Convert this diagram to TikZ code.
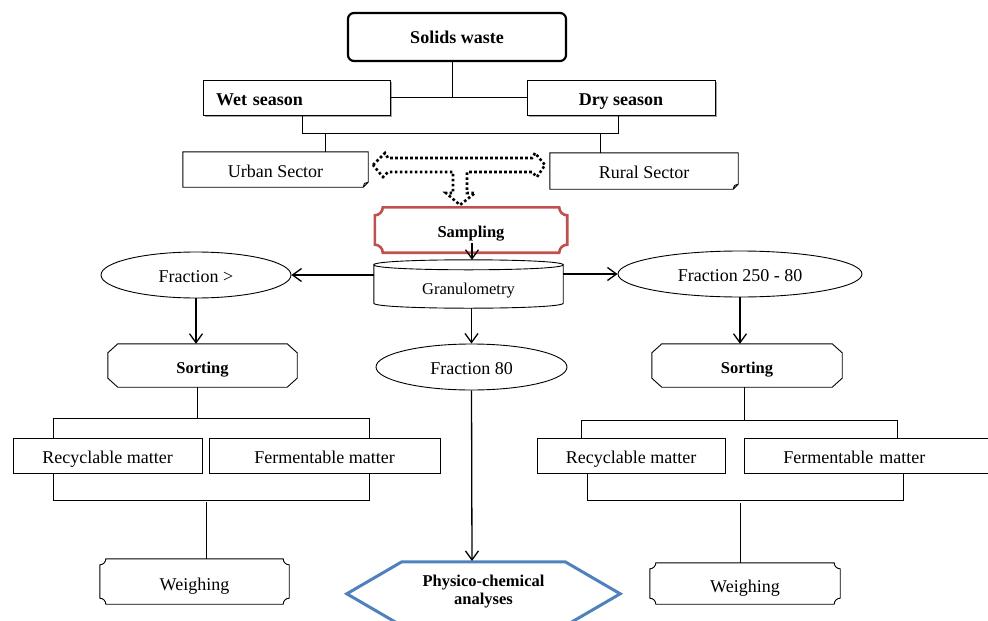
\documentclass[tikz,border=0pt]{standalone}
\usepackage{fontspec}
\setmainfont{Liberation Serif}
\usetikzlibrary{arrows.meta,calc,shapes.geometric}
\definecolor{redb}{HTML}{C0504D}
\definecolor{blueb}{HTML}{4F81BD}
\newcommand\concavepath[2]{ let \p1=(#1.south west), \p2=(#1.north east) in (\x1,\y1+#2) -- (\x1,\y2-#2) .. controls (\x1+0.55*#2,\y2-#2) and (\x1+#2,\y2-0.55*#2) .. (\x1+#2,\y2) -- (\x2-#2,\y2) .. controls (\x2-#2,\y2-0.55*#2) and (\x2-0.55*#2,\y2-#2) .. (\x2,\y2-#2) -- (\x2,\y1+#2) .. controls (\x2-0.55*#2,\y1+#2) and (\x2-#2,\y1+0.55*#2) .. (\x2-#2,\y1) -- (\x1+#2,\y1) .. controls (\x1+#2,\y1+0.55*#2) and (\x1+0.55*#2,\y1+#2) .. (\x1,\y1+#2) -- cycle}
\newcommand\chamferpath[3]{ let \p1=(#1.south west), \p2=(#1.north east) in (\x1+#2,\y1) -- (\x2-#2,\y1) -- (\x2,\y1+#3) -- (\x2,\y2-#3) -- (\x2-#2,\y2) -- (\x1+#2,\y2) -- (\x1,\y2-#3) -- (\x1,\y1+#3) -- cycle}
\newcommand\foldpath[2]{ let \p1=(#1.south west), \p2=(#1.north east) in (\x1,\y1) -- (\x2-#2,\y1) -- (\x2,\y1+#2) -- (\x2,\y2) -- (\x1,\y2) -- cycle (\x2-#2,\y1) -- (\x2-0.75*#2,\y1+0.75*#2) -- (\x2,\y1+#2)}
\newcommand\hexpath[2]{ let \p1=(#1.south west), \p2=(#1.north east) in (\x1,\y2-32pt) -- (\x1+#2,\y2) -- (\x2-#2,\y2) -- (\x2,\y2-32pt) -- (\x2-#2,\y2-64pt) -- (\x1+#2,\y2-64pt) -- cycle}
\newcommand\cylpath[1]{ let \p1=(#1.south west), \p2=(#1.north east) in (\x1,\y2-5pt) .. controls (\x1,\y2+1.67pt) and (\x2,\y2+1.67pt) .. (\x2,\y2-5pt) .. controls (\x2,\y2-11.67pt) and (\x1,\y2-11.67pt) .. (\x1,\y2-5pt) -- (\x1,\y1+5pt) .. controls (\x1,\y1-1.67pt) and (\x2,\y1-1.67pt) .. (\x2,\y1+5pt) -- (\x2,\y2-5pt)}
\newcommand\shadowpath[1]{ let \p1=(#1.south west), \p2=(#1.north east) in (\x2+1.2pt,\y2-2pt) -- (\x2+1.2pt,\y1-1.2pt) -- (\x1+2pt,\y1-1.2pt)}
\tikzset{
  base/.style={inner sep=0pt, font=\fontsize{18}{21}\selectfont, text height=15pt, text depth=0pt},
  bbase/.style={inner sep=0pt, font=\bfseries\fontsize{18}{21}\selectfont},
  sbase/.style={inner sep=0pt, font=\bfseries\fontsize{16.5}{18}\selectfont},
  box/.style={base, draw, line width=0.9pt},
  ell/.style={base, draw, line width=0.9pt, ellipse, text height=14pt},
  conn/.style={line width=0.9pt},
  arr/.style={line width=1.3pt, -{Straight Barb[length=9pt,width=13pt,line width=1.3pt]}},
  outline/.style={line width=0.9pt},
  dotarrow/.style={line width=2.6pt, dash pattern=on 2.6pt off 2.4pt},
}
\begin{document}
\begin{tikzpicture}[x=1pt,y=-1pt]
\useasboundingbox (0,0) rectangle (988,621);
% nodes
\node[bbase, draw, line width=2.2pt, rounded corners=6pt, minimum width=218, minimum height=48, text height=12pt, text depth=0pt] (sw) at (457,37) {Solids waste};
\node[bbase, draw, line width=0.9pt, minimum width=187, minimum height=35, inner xsep=13pt, text width=161pt, align=left, text height=16pt, text depth=0pt] (wet) at (296.5,97.5) {Wet season};
\node[bbase, draw, line width=0.9pt, minimum width=188, minimum height=35, text height=16pt, text depth=0pt] (dry) at (621,97.5) {Dry season};
\draw[gray!70, line width=1.1pt] \shadowpath{wet};
\draw[gray!70, line width=1.1pt] \shadowpath{dry};
\node[base, minimum width=185, minimum height=35] (urban) at (275.5,169.5) {Urban Sector};
\node[base, minimum width=188, minimum height=36] (rural) at (644,171) {Rural Sector};
\draw[outline] \foldpath{urban}{5pt};
\draw[outline] \foldpath{rural}{5pt};
\node[sbase, minimum width=192, minimum height=45, text height=14pt, text depth=0pt] (samp) at (471,230) {Sampling};
\draw[redb, line width=2.6pt] \concavepath{samp}{8pt};
\node[base, font=\fontsize{16.5}{20}\selectfont, minimum width=189, minimum height=48, text height=20pt] (gran) at (468.5,284) {Granulometry};
\draw[outline] \cylpath{gran};
\node[ell, minimum width=190, minimum height=46] (fgt) at (196,275) {Fraction >};
\node[ell, minimum width=244, minimum height=46] (f25) at (740,274) {Fraction 250 - 80};
\node[ell, minimum width=191, minimum height=46] (f80) at (471.5,367) {Fraction 80};
\node[sbase, minimum width=189, minimum height=43, text height=15pt, text depth=0pt] (sortL) at (202.5,365.5) {Sorting};
\node[sbase, minimum width=190, minimum height=43, text height=15pt, text depth=0pt] (sortR) at (747,365.5) {Sorting};
\draw[outline] \chamferpath{sortL}{10pt}{9pt};
\draw[outline] \chamferpath{sortR}{10pt}{9pt};
\node[box, minimum width=189, minimum height=35] (recL) at (107.5,455.5) {Recyclable matter};
\node[box, minimum width=231, minimum height=35] (fermL) at (324.5,455.5) {Fermentable matter};
\node[box, minimum width=188, minimum height=35] (recR) at (631,455.5) {Recyclable matter};
\node[box, anchor=west, minimum height=35, text width=251pt, align=left] (fermR) at (744,455.5) {\hspace*{39pt}Fermentable matter};
\node[base, minimum width=189, minimum height=45, text height=17pt] (weighL) at (194.5,581.5) {Weighing};
\node[base, minimum width=190, minimum height=41, text height=17pt] (weighR) at (745,583.5) {Weighing};
\draw[outline] \concavepath{weighL}{6pt};
\draw[outline] \concavepath{weighR}{6pt};
\node[sbase, minimum width=273, minimum height=60, align=center] (phys) at (483.5,592) {Physico-chemical\\analyses};
\draw[blueb, line width=3pt] \hexpath{phys}{55pt};
% dotted T arrow
\draw[dotarrow] (373,165) -- (385,153) -- (388,158) -- (532,158) -- (535,153) -- (545,165) -- (537,177) -- (532,172) -- (467,172) -- (467,193) -- (475,193) -- (460,205) -- (446,193) -- (453,193) -- (453,172) -- (388,172) -- (383,177) -- cycle;
% top connectors
\coordinate (j0) at (452,97);
\draw[conn] (j0 |- sw.south) -- (j0);
\draw[conn] (wet.east |- j0) -- (dry.west |- j0);
\coordinate (j1) at (302,133);
\coordinate (j2) at (618,133);
\draw[conn] (j1 |- wet.south) -- (j1) -- (j2) -- (j2 |- dry.south);
\coordinate (j3) at (325,133);
\coordinate (j4) at (600,133);
\draw[conn] (j3) -- (j3 |- urban.north);
\draw[conn] (j4) -- (j4 |- rural.north);
% arrows
\coordinate (s0) at (472,243);
\draw[arr] (s0) -- (s0 |- gran.north);
\draw[arr] (fgt.east -| gran.west) -- (fgt.east);
\draw[arr] (f25.west -| gran.east) -- (f25.west);
\draw[arr] (gran.south -| f80.north) -- (f80.north);
\draw[arr] (fgt.south) -- (fgt.south |- sortL.north);
\draw[arr] (f25.south) -- (f25.south |- sortR.north);
\draw[arr] (f80.south) -- (472,561);
% left brackets
\coordinate (a1) at (197,418);
\draw[conn] (a1 |- sortL.south) -- (a1);
\coordinate (a2) at (53,418);
\coordinate (a3) at (369,418);
\draw[conn] (a2 |- recL.north) -- (a2) -- (a3) -- (a3 |- fermL.north);
\coordinate (b1) at (53,500);
\coordinate (b2) at (369,500);
\draw[conn] (b1 |- recL.south) -- (b1) -- (b2) -- (b2 |- fermL.south);
\coordinate (b3) at (206,502);
\draw[conn] (b3) -- (b3 |- weighL.north);
% right brackets
\coordinate (c1) at (744,420);
\draw[conn] (c1 |- sortR.south) -- (c1);
\coordinate (c2) at (581,420);
\coordinate (c3) at (897,420);
\draw[conn] (c2 |- recR.north) -- (c2) -- (c3) -- (c3 |- fermR.north);
\coordinate (d1) at (587,500);
\coordinate (d2) at (903,500);
\draw[conn] (d1 |- recR.south) -- (d1) -- (d2) -- (d2 |- fermR.south);
\coordinate (d3) at (740,503);
\draw[conn] (d3) -- (d3 |- weighR.north);
\end{tikzpicture}
\end{document}
